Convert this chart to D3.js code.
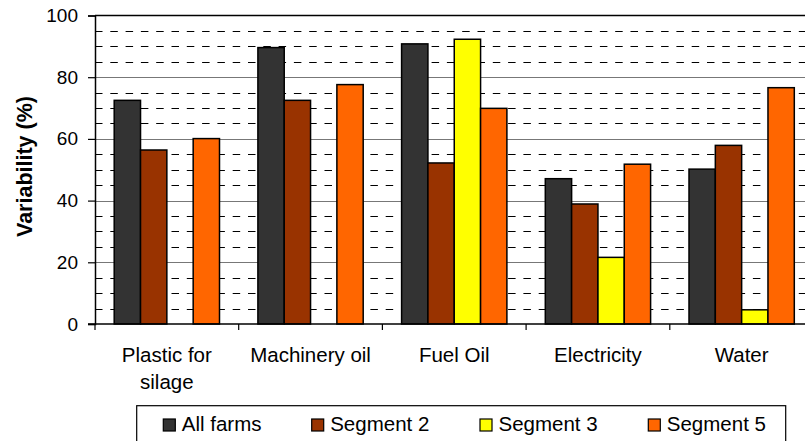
<!DOCTYPE html>
<html>
<head>
<meta charset="utf-8">
<script src="https://cdn.jsdelivr.net/npm/d3@7"></script>
<style>
  html, body { margin: 0; padding: 0; background: #fff; }
  svg { display: block; }
  text { font-family: "Liberation Sans", Arial, sans-serif; fill: #000; }
</style>
</head>
<body>
<svg id="chart" width="805" height="441"></svg>
<script>
// Variability of input use by farm segment
const categories = [["Plastic for", "silage"], ["Machinery oil"], ["Fuel Oil"], ["Electricity"], ["Water"]];
const seriesNames = ["All farms", "Segment 2", "Segment 3", "Segment 5"];
const allFarms = [72.5, 89.6, 90.8, 47.1, 50.2];
const segment2 = [56.4, 72.5, 52.2, 38.9, 57.9];
const segment3 = [null, null, 92.3, 21.6, 4.6];
const segment5 = [60.1, 77.6, 69.9, 51.8, 76.6];
const seriesColors = ["#333333", "#993300", "#FFFF00", "#FF6600"];
const yTicks = [0, 20, 40, 60, 80, 100];

const seriesValues = [allFarms, segment2, segment3, segment5];
const svg = d3.select("#chart");

const plotLeft = 95, plotRight = 813.5, plotTop = 15.5, plotBottom = 324;

const x = d3.scaleBand().domain(d3.range(categories.length)).range([plotLeft, plotRight]).paddingInner(0).paddingOuter(0);
const xInner = d3.scaleBand().domain(d3.range(seriesNames.length))
  .range([19.2, x.bandwidth() - 19.2]);
const y = d3.scaleLinear().domain([0, 100]).range([plotBottom, plotTop]);

// minor dashed gridlines every 5
const minor = d3.range(5, 100, 5).filter(v => v % 20 !== 0);
svg.append("g").selectAll("line").data(minor).join("line")
  .attr("x1", plotLeft).attr("x2", 805)
  .attr("y1", d => Math.round(y(d)) + 0.5).attr("y2", d => Math.round(y(d)) + 0.5)
  .attr("stroke", "#000").attr("stroke-width", 1)
  .attr("stroke-dasharray", "7.5,7.8");

// major solid gridlines
svg.append("g").selectAll("line").data(yTicks.filter(v => v > 0 && v < 100)).join("line")
  .attr("x1", plotLeft).attr("x2", 805)
  .attr("y1", d => Math.round(y(d)) + 0.5).attr("y2", d => Math.round(y(d)) + 0.5)
  .attr("stroke", "#777").attr("stroke-width", 1.2);

// top border
svg.append("line").attr("x1", plotLeft).attr("x2", 805)
  .attr("y1", y(100)).attr("y2", y(100))
  .attr("stroke", "#000").attr("stroke-width", 1.5);

// bars
const groups = svg.append("g").selectAll("g").data(categories).join("g")
  .attr("transform", (d, i) => `translate(${x(i)},0)`);
groups.selectAll("rect")
  .data((d, i) => seriesValues.map((vals, s) => ({ s, v: vals[i] })).filter(e => e.v != null))
  .join("rect")
  .attr("x", d => xInner(d.s))
  .attr("width", xInner.bandwidth())
  .attr("y", d => y(d.v))
  .attr("height", d => y(0) - y(d.v))
  .attr("fill", d => seriesColors[d.s])
  .attr("stroke", "#000").attr("stroke-width", 1.5);

// y axis
const yAxis = d3.axisLeft(y).tickValues(yTicks).tickSize(7).tickPadding(10).tickFormat(d3.format("d"));
const ya = svg.append("g").attr("transform", `translate(${plotLeft},0)`).call(yAxis);
ya.attr("font-family", null).attr("font-size", null);
ya.select(".domain").attr("stroke", "#000").attr("stroke-width", 1.5);
ya.selectAll(".tick line").attr("stroke", "#000").attr("stroke-width", 1.2);
ya.selectAll(".tick text").style("font-size", "19px").attr("fill", "#000");

// x axis baseline and category ticks
svg.append("line").attr("x1", plotLeft - 7).attr("x2", 805)
  .attr("y1", plotBottom).attr("y2", plotBottom)
  .attr("stroke", "#000").attr("stroke-width", 1.5);
svg.append("g").selectAll("line").data(d3.range(categories.length + 1)).join("line")
  .attr("x1", i => plotLeft + i * x.bandwidth()).attr("x2", i => plotLeft + i * x.bandwidth())
  .attr("y1", plotBottom).attr("y2", plotBottom + 6)
  .attr("stroke", "#000").attr("stroke-width", 1.2);

// category labels
const cl = svg.append("g").selectAll("text").data(categories).join("text")
  .attr("x", (d, i) => x(i) + x.bandwidth() / 2)
  .attr("y", 361.7)
  .attr("text-anchor", "middle")
  .style("font-size", "20.5px");
cl.selectAll("tspan").data(d => d).join("tspan")
  .attr("x", function () { return this.parentNode.getAttribute("x"); })
  .attr("dy", (d, i) => i === 0 ? 0 : 27.3)
  .text(d => d);

// y axis title
svg.append("text")
  .attr("transform", "translate(32,166.5) rotate(-90)")
  .attr("text-anchor", "middle")
  .style("font-size", "21.5px").style("font-weight", "bold")
  .text("Variability (%)");

// legend
const legend = svg.append("g");
legend.append("rect").attr("x", 136.7).attr("y", 405.7).attr("width", 649).attr("height", 60)
  .attr("fill", "#fff").attr("stroke", "#000").attr("stroke-width", 1.2);
const legendX = [163.3, 311.7, 480, 648.3];
const items = legend.selectAll("g.item").data(seriesNames).join("g").attr("class", "item")
  .attr("transform", (d, i) => `translate(${legendX[i]},419)`);
items.append("rect").attr("width", 12).attr("height", 12)
  .attr("fill", (d, i) => seriesColors[i]).attr("stroke", "#000").attr("stroke-width", 1.2);
items.append("text").attr("x", 18.5).attr("y", 11.5)
  .style("font-size", "20.5px").text(d => d);
</script>
</body>
</html>
